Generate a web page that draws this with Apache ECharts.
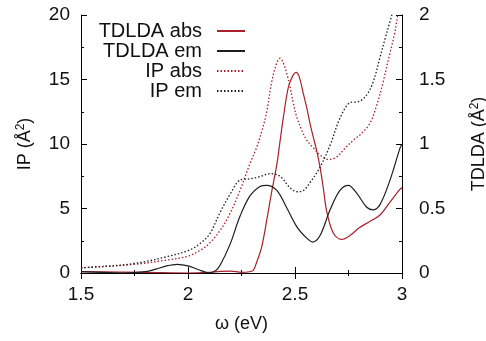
<!DOCTYPE html>
<html><head><meta charset="utf-8">
<script src="https://cdn.jsdelivr.net/npm/echarts@6/dist/echarts.min.js"></script>
<style>html,body{margin:0;padding:0;background:#fff}#c{width:486px;height:341px}</style>
</head><body><div id="c"></div>
<script>
// IP em (black dotted, left axis)
const ipEmX = [1.5,1.6,1.7,1.75,1.8,1.9,2.0,2.05,2.1,2.15,2.2,2.243,2.29,2.336,2.383,2.43,2.477,2.51,2.54,2.57,2.617,2.664,2.71,2.757,2.8,2.835,2.865,2.897,2.92,2.944,2.96,3.0];
const ipEmY = [0.4,0.5,0.63,0.75,0.88,1.26,1.73,2.2,3.0,4.7,6.2,7.2,7.3,7.47,7.7,7.5,6.6,6.3,6.4,7.0,8.2,9.9,12.0,13.2,13.3,13.8,14.8,16.7,18.1,19.5,20.5,24];
// IP abs (red dotted, left axis)
const ipAbsX = [1.5,1.6,1.75,1.9,2.0,2.056,2.1,2.15,2.196,2.243,2.29,2.32,2.345,2.368,2.391,2.415,2.43,2.445,2.461,2.477,2.492,2.508,2.531,2.555,2.586,2.617,2.656,2.695,2.741,2.78,2.81,2.85,2.88,2.91,2.94,2.966,2.98,3.0];
const ipAbsY = [0.4,0.5,0.67,1.0,1.3,1.75,2.3,3.3,4.6,6.4,8.5,9.7,11.0,12.5,14.8,16.3,16.65,16.3,15.5,14.4,13.2,12.1,11.1,10.3,9.7,9.15,8.8,9.0,9.8,10.4,10.8,11.6,12.9,14.7,16.8,18.6,20,21.5];
// TDLDA em (black solid, right axis)
const tdEmX = [1.5,1.6,1.7,1.8,1.85,1.9,1.95,2.0,2.05,2.1,2.13,2.15,2.196,2.243,2.29,2.336,2.368,2.415,2.46,2.508,2.555,2.583,2.617,2.664,2.71,2.749,2.788,2.835,2.866,2.897,2.944,2.991,3.0];
const tdEmY = [0.01,0.005,0.0,0.01,0.03,0.055,0.067,0.055,0.025,0.002,0.02,0.06,0.22,0.44,0.6,0.67,0.68,0.64,0.51,0.36,0.27,0.24,0.29,0.49,0.64,0.68,0.62,0.51,0.49,0.53,0.72,0.97,1.0];
// TDLDA abs (red solid, right axis)
const tdAbsX = [1.5,1.8,2.0,2.1,2.15,2.2,2.25,2.3,2.32,2.344,2.368,2.391,2.415,2.43,2.445,2.469,2.49,2.505,2.52,2.539,2.555,2.57,2.586,2.601,2.617,2.633,2.648,2.679,2.718,2.757,2.8,2.85,2.897,2.944,2.991,3.0];
const tdAbsY = [0.01,0.005,0.0,0.005,0.012,0.015,0.005,0.015,0.08,0.2,0.41,0.63,0.84,1.02,1.2,1.44,1.53,1.555,1.52,1.39,1.28,1.16,1.05,0.95,0.82,0.65,0.48,0.31,0.26,0.29,0.35,0.4,0.45,0.55,0.65,0.66];
const xTicks = [1.5, 2, 2.5, 3];
const leftTicks = [0, 5, 10, 15, 20];
const rightTicks = [0, 0.5, 1, 1.5, 2];

const pair = (xs, ys) => xs.map((x, i) => [x, ys[i]]);
const RED = '#a8202a', BLK = '#1e1e1e';
const FONT = 'Liberation Sans';
const tickCommon = {inside: true, length: 6, lineStyle: {color: '#000'}};
const minorCommon = {show: true, splitNumber: 2, length: 3, lineStyle: {color: '#000'}};
const lineCommon = {show: true, lineStyle: {color: '#000', width: 1}};

const chart = echarts.init(document.getElementById('c'), null, {renderer: 'canvas'});
chart.setOption({
  animation: false,
  backgroundColor: '#fff',
  textStyle: {fontFamily: FONT},
  grid: {left: 81, right: 84, top: 15, bottom: 68, containLabel: false, outerBoundsMode: 'none'},
  legend: {
    orient: 'vertical', align: 'right', right: 240, top: 21, padding: 0,
    itemWidth: 28, itemHeight: 14, itemGap: 0,
    itemStyle: {opacity: 0},
    textStyle: {fontFamily: FONT, fontSize: 20, color: '#111', padding: [0, 10, 0, 0]},
    data: ['TDLDA abs', 'TDLDA em', 'IP abs', 'IP em']
  },
  xAxis: [{
    type: 'value', min: 1.5, max: 3, interval: 0.5, position: 'bottom',
    name: 'ω (eV)', nameLocation: 'middle', nameGap: 42,
    nameTextStyle: {fontFamily: FONT, fontSize: 18, color: '#111'},
    axisLine: lineCommon, axisTick: tickCommon, minorTick: minorCommon,
    splitLine: {show: false},
    axisLabel: {fontFamily: FONT, fontSize: 19, color: '#111', margin: 12,
      formatter: v => xTicks.includes(v) ? String(v) : ''}
  }, {
    type: 'value', min: 1.5, max: 3, interval: 0.5, position: 'top',
    axisLine: lineCommon, axisTick: tickCommon, minorTick: minorCommon,
    splitLine: {show: false}, axisLabel: {show: false}
  }],
  yAxis: [{
    type: 'value', min: 0, max: 20, interval: 5, position: 'left',
    name: 'IP (Å{s|2})', nameLocation: 'middle', nameGap: 46, nameRotate: 90,
    nameTextStyle: {fontFamily: FONT, fontSize: 18, color: '#111',
      rich: {s: {fontSize: 12, fontFamily: FONT, color: '#111', verticalAlign: 'top', padding: [0, 0, 8, 0]}}},
    axisLine: lineCommon, axisTick: tickCommon, minorTick: minorCommon,
    splitLine: {show: false},
    axisLabel: {fontFamily: FONT, fontSize: 19, color: '#111', margin: 11,
      formatter: v => leftTicks.includes(v) ? String(v) : ''}
  }, {
    type: 'value', min: 0, max: 2, interval: 0.5, position: 'right',
    name: 'TDLDA (Å{s|2})', nameLocation: 'middle', nameGap: 67, nameRotate: 90,
    nameTextStyle: {fontFamily: FONT, fontSize: 18, color: '#111',
      rich: {s: {fontSize: 12, fontFamily: FONT, color: '#111', verticalAlign: 'top', padding: [0, 0, 8, 0]}}},
    axisLine: lineCommon, axisTick: tickCommon, minorTick: minorCommon,
    splitLine: {show: false},
    axisLabel: {fontFamily: FONT, fontSize: 19, color: '#111', margin: 17,
      formatter: v => rightTicks.includes(v) ? String(v) : ''}
  }],
  series: [
    {name: 'TDLDA abs', type: 'line', yAxisIndex: 1, data: pair(tdAbsX, tdAbsY), smooth: 0.35,
     symbol: 'none', color: RED, lineStyle: {color: RED, width: 1.2}},
    {name: 'TDLDA em', type: 'line', yAxisIndex: 1, data: pair(tdEmX, tdEmY), smooth: 0.35,
     symbol: 'none', color: BLK, lineStyle: {color: BLK, width: 1.2}},
    {name: 'IP abs', type: 'line', yAxisIndex: 0, data: pair(ipAbsX, ipAbsY), smooth: 0.35,
     symbol: 'none', color: RED, lineStyle: {color: RED, width: 1.3, type: [1.5, 2]}},
    {name: 'IP em', type: 'line', yAxisIndex: 0, data: pair(ipEmX, ipEmY), smooth: 0.35,
     symbol: 'none', color: BLK, lineStyle: {color: BLK, width: 1.3, type: [1.5, 2]}}
  ]
});
</script></body></html>
